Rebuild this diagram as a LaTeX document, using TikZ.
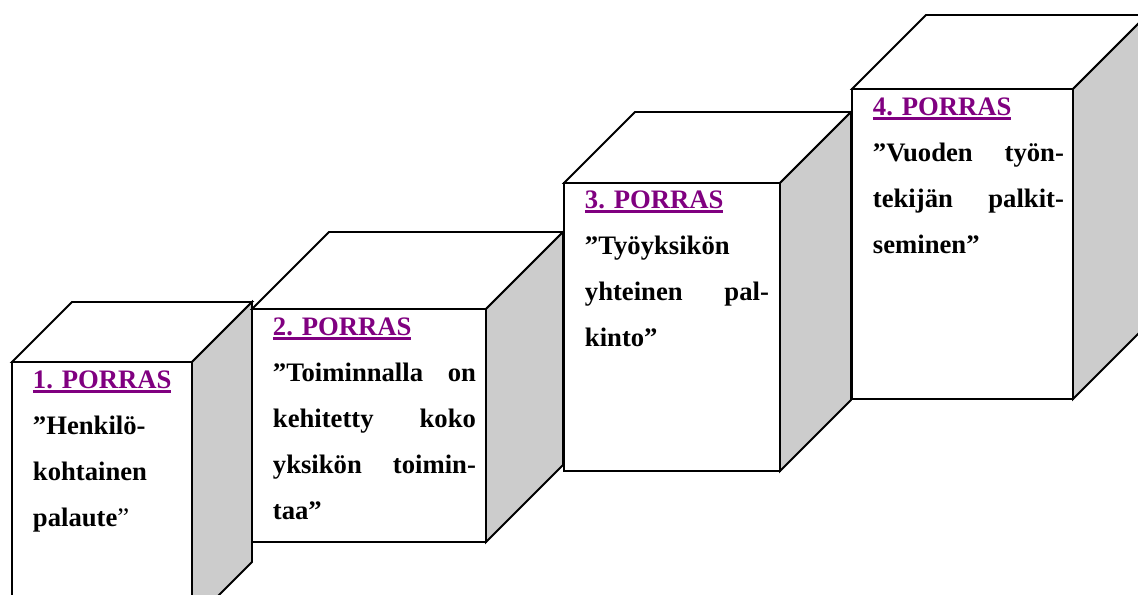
\documentclass[tikz,border=0pt]{standalone}
\usepackage{fontspec}
\setmainfont{Liberation Serif}
\frenchspacing

% Underlined step title
\newcommand\porras[1]{{\color{porraspurple}\setbox0\hbox{#1}\leavevmode\rlap{\rule[-3.8pt]{\wd0}{2.2pt}}\box0}}

\begin{document}
\begin{tikzpicture}[x=0.75pt, y=-0.75pt, line width=1.4pt,
    steptext/.style={font=\bfseries\fontsize{20}{34.5}\selectfont, align=left, anchor=base west, inner sep=0pt}]
    % Define colors
    \definecolor{porraspurple}{HTML}{800080}

    % Fix the visible area
    \useasboundingbox (0,0) rectangle (1138,594);
    \clip (0,0) rectangle (1138,594);

    % Define a macro to draw one step as a box
    \def\drawStep#1#2#3#4#5{ % #1 = left x, #2 = top y, #3 = width, #4 = height, #5 = depth
      \filldraw[fill=white] (#1,#2) -- ++(#5,-#5) -- ++(#3,0) -- ++(-#5,#5) -- cycle; % top face
      \filldraw[fill=gray!40] (#1+#3,#2) -- ++(#5,-#5) -- ++(0,#4) -- ++(-#5,#5) -- cycle; % side face
      \filldraw[fill=white] (#1,#2) rectangle ++(#3,#4); % front face
    }

    % Draw the steps from left to right
    \drawStep{12}{362}{180}{260}{60}
    \drawStep{252}{309}{234}{233}{77}
    \drawStep{564}{183}{216}{288}{71}
    \drawStep{852}{89}{221}{310}{74}

    % Texts on the front faces
    \node[steptext, text width=111.75pt] (step1) at (32,388)
      {\porras{1. PORRAS}\\ ”Henkilö-\\ kohtainen\\ palaute{\mdseries ”}};
    \node[steptext, text width=152.25pt] (step2) at (272,335)
      {\porras{2. PORRAS}\\ ”Toiminnalla\hfill on\\ kehitetty\hfill koko\\ yksikön\hfill toimin-\\ taa”};
    \node[steptext, text width=138pt] (step3) at (584,208)
      {\porras{3. PORRAS}\\ ”Työyksikön\\ yhteinen\hfill pal-\\ kinto”};
    \node[steptext, text width=143.25pt] (step4) at (872,115)
      {\porras{4. PORRAS}\\ ”Vuoden\hfill työn-\\ tekijän\hfill palkit-\\ seminen”};
  \end{tikzpicture}
\end{document}
